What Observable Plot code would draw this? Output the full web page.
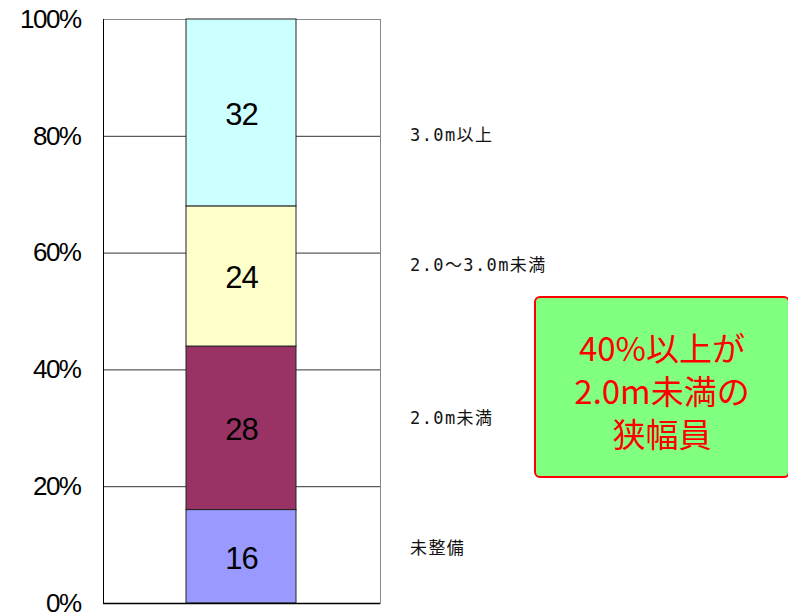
<!DOCTYPE html>
<html>
<head>
<meta charset="utf-8">
<script src="https://cdn.jsdelivr.net/npm/d3@7"></script>
<script src="https://cdn.jsdelivr.net/npm/@observablehq/plot@0.6"></script>
<style>
  html, body { margin: 0; padding: 0; background: #fff; overflow: hidden; }
  #wrap { position: relative; width: 788px; height: 615px; overflow: hidden; }
  #chart { position: absolute; left: 0; top: 0; }
  .legend { position: absolute; left: 410px; font-family: "DejaVu Sans Mono", "Noto Sans CJK JP", monospace; font-size: 17px; letter-spacing: 1.4px; color: #111; line-height: 17px; white-space: nowrap; }
  #note { position: absolute; left: 534px; top: 296px; width: 252px; height: 178px; background: #80FF80; border: 2px solid #FF0000; border-radius: 6px; }
  #note div { position: absolute; left: 0; right: 0; top: 28px; text-align: center; color: #FF0000; font-family: "Noto Sans CJK JP", sans-serif; font-size: 33px; line-height: 43px; }
  .barlabels text { letter-spacing: -1px; }
  .yaxis text { letter-spacing: -1.5px; }
</style>
</head>
<body>
<div id="wrap">
  <div id="chart"></div>
</div>
<script>
const categories = ["未整備", "2.0m未満", "2.0～3.0m未満", "3.0m以上"];
const values = [16, 28, 24, 32];
const colors = ["#9999FF", "#993366", "#FFFFCC", "#CCFFFF"];
const yTicks = [0, 20, 40, 60, 80, 100];
const legendTops = [540, 410, 257, 127];
const noteLines = ["40%以上が", "2.0m未満の", "狭幅員"];

const data = categories.map((c, i) => ({group: "全体", category: c, value: values[i]}));

const plot = Plot.plot({
  width: 788,
  height: 615,
  marginTop: 19,
  marginBottom: 12,
  marginLeft: 103,
  marginRight: 408,
  style: {fontFamily: "Liberation Sans, Arial, sans-serif", background: "transparent"},
  x: {domain: ["全体"], padding: 0.43, axis: null},
  y: {domain: [0, 100], axis: null, label: null},
  color: {domain: categories, range: colors},
  marks: [
    Plot.frame({stroke: "#888"}),
    Plot.ruleY(yTicks.filter(d => d > 0 && d < 100), {stroke: "#333"}),
    Plot.barY(data, Plot.stackY({x: "group", y: "value", fill: "category", stroke: "#222", strokeWidth: 1})),
    Plot.text(data, Plot.stackY({x: "group", y: "value", text: d => String(d.value), fontSize: 31, dy: 2, fill: "#000", className: "barlabels"})),
    Plot.ruleY([0], {stroke: "#000", strokeWidth: 1.5}),
    Plot.frame({anchor: "left", stroke: "#000"}),
    Plot.axisY({ticks: yTicks, tickFormat: d => d + "%", tickSize: 0, tickPadding: 23, fontSize: 26, fill: "#000", label: null, className: "yaxis"})
  ]
});
document.getElementById("chart").appendChild(plot);

const wrap = document.getElementById("wrap");
categories.forEach((c, i) => {
  const el = document.createElement("div");
  el.className = "legend";
  el.style.top = legendTops[i] + "px";
  el.textContent = c;
  wrap.appendChild(el);
});
const note = document.createElement("div");
note.id = "note";
const inner = document.createElement("div");
inner.innerHTML = noteLines.join("<br>");
note.appendChild(inner);
wrap.appendChild(note);
</script>
</body>
</html>
